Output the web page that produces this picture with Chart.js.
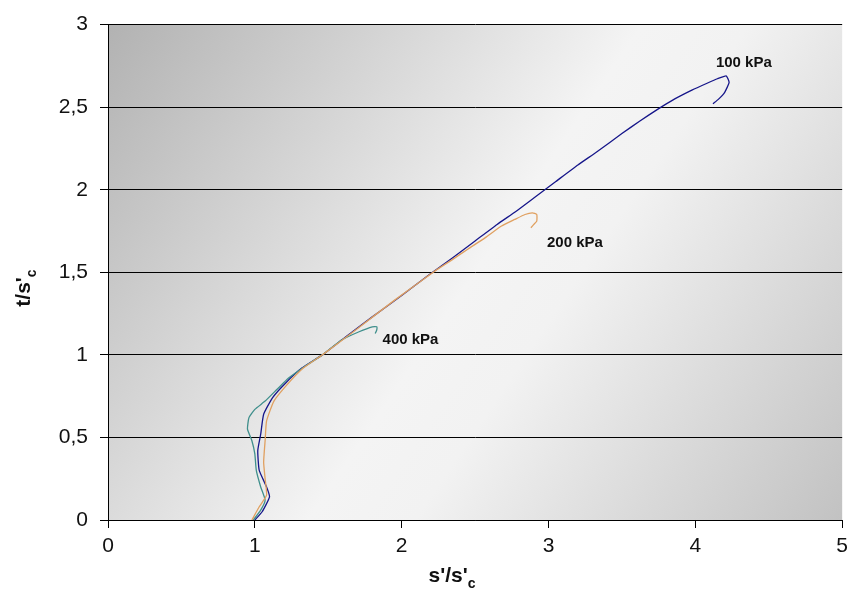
<!DOCTYPE html>
<html>
<head>
<meta charset="utf-8">
<script src="https://cdn.jsdelivr.net/npm/chart.js@4.4.1/dist/chart.umd.min.js"></script>
<style>
  html, body { margin: 0; padding: 0; background: #ffffff; }
  #wrap { width: 854px; height: 595px; }
</style>
</head>
<body>
<div id="wrap"><canvas id="c" width="854" height="595"></canvas></div>
<script>
// Stress paths (s'/s'c, t/s'c) for three confining pressures
const seriesNames = ['100 kPa', '200 kPa', '400 kPa'];

const s100 = [1.00,1.05,1.10,1.08,1.03,1.02,1.04,1.06,1.12,1.21,1.32,1.46,1.62,1.80,2.00,2.18,2.35,2.50,2.65,2.78,2.90,3.05,3.20,3.33,3.50,3.62,3.74,3.86,3.98,4.08,4.15,4.21,4.23,4.20,4.16,4.12];
const t100 = [0.00,0.05,0.14,0.20,0.30,0.42,0.52,0.64,0.74,0.83,0.92,1.00,1.11,1.23,1.36,1.48,1.59,1.69,1.79,1.87,1.95,2.05,2.15,2.23,2.34,2.415,2.485,2.55,2.605,2.645,2.672,2.69,2.65,2.59,2.55,2.52];

const s200 = [0.98,1.03,1.08,1.07,1.06,1.07,1.08,1.13,1.22,1.33,1.46,1.70,1.95,2.23,2.35,2.45,2.57,2.68,2.77,2.84,2.89,2.92,2.92,2.90,2.88];
const t200 = [0.00,0.08,0.15,0.25,0.35,0.48,0.60,0.72,0.82,0.92,1.00,1.16,1.33,1.51,1.58,1.64,1.71,1.78,1.82,1.85,1.86,1.85,1.81,1.79,1.77];

const s400 = [0.99,1.04,1.07,1.04,1.01,1.00,0.98,0.95,0.96,1.00,1.07,1.15,1.23,1.34,1.46,1.59,1.71,1.80,1.83,1.83,1.82];
const t400 = [0.00,0.06,0.12,0.20,0.30,0.40,0.48,0.55,0.62,0.67,0.72,0.79,0.86,0.93,1.00,1.09,1.14,1.17,1.17,1.15,1.13];

const seriesColors = ['#16168a', '#e0a060', '#3f8f8c'];

// Curve-end labels: [s'/s'c, t/s'c] anchor (left edge, middle)
const labelPos = [[4.14, 2.77], [2.99, 1.68], [1.87, 1.09]];

const xTicks = [0, 1, 2, 3, 4, 5];
const yTicks = [0, 0.5, 1, 1.5, 2, 2.5, 3];

function pairs(xs, ys) { return xs.map((x, i) => ({ x: x, y: ys[i] })); }

const FONT = '"Liberation Sans", Arial, sans-serif';

// Gray diagonal gradient behind the plot area
const bgPlugin = {
  id: 'plotBg',
  beforeDraw(chart) {
    const a = chart.chartArea, ctx = chart.ctx;
    const g = ctx.createLinearGradient(a.left, a.top, a.right, a.bottom);
    g.addColorStop(0, '#b2b2b2');
    g.addColorStop(0.5, '#f4f4f4');
    g.addColorStop(0.6, '#f2f2f2');
    g.addColorStop(1, '#c2c2c2');
    ctx.save();
    ctx.fillStyle = g;
    ctx.fillRect(a.left, a.top, a.right - a.left, a.bottom - a.top);
    ctx.restore();
  }
};

// Axis titles with subscripts and the pressure labels next to each curve
function drawSubTitle(ctx, main, sub, x, y, size) {
  ctx.font = 'bold ' + size + 'px ' + FONT;
  const w1 = ctx.measureText(main).width;
  ctx.font = 'bold ' + Math.round(size * 0.68) + 'px ' + FONT;
  const w2 = ctx.measureText(sub).width;
  const start = x - (w1 + w2) / 2;
  ctx.font = 'bold ' + size + 'px ' + FONT;
  ctx.textAlign = 'left';
  ctx.textBaseline = 'alphabetic';
  ctx.fillText(main, start, y);
  ctx.font = 'bold ' + Math.round(size * 0.68) + 'px ' + FONT;
  ctx.fillText(sub, start + w1, y + size * 0.3);
}

const textPlugin = {
  id: 'texts',
  afterDraw(chart) {
    const ctx = chart.ctx;
    const xs = chart.scales.x, ys = chart.scales.y;
    ctx.save();
    ctx.fillStyle = '#111';
    drawSubTitle(ctx, "s'/s'", 'c', 452, 582, 21);
    ctx.translate(30, 288);
    ctx.rotate(-Math.PI / 2);
    drawSubTitle(ctx, "t/s'", 'c', 0, 0, 21);
    ctx.restore();

    ctx.save();
    ctx.fillStyle = '#111';
    ctx.font = 'bold 15px ' + FONT;
    ctx.textAlign = 'left';
    ctx.textBaseline = 'middle';
    seriesNames.forEach((n, i) => {
      ctx.fillText(n, xs.getPixelForValue(labelPos[i][0]), ys.getPixelForValue(labelPos[i][1]));
    });
    ctx.restore();
  }
};

const datasets = [
  { label: seriesNames[0], data: pairs(s100, t100), borderColor: seriesColors[0] },
  { label: seriesNames[1], data: pairs(s200, t200), borderColor: seriesColors[1] },
  { label: seriesNames[2], data: pairs(s400, t400), borderColor: seriesColors[2] }
].map(d => Object.assign(d, { showLine: true, pointRadius: 0, borderWidth: 1.3, tension: 0.15, fill: false }));

new Chart(document.getElementById('c'), {
  type: 'scatter',
  data: { datasets: [datasets[1], datasets[2], datasets[0]] },
  options: {
    responsive: false,
    animation: false,
    devicePixelRatio: 1,
    layout: { padding: { left: 0, right: 8, top: 17, bottom: 0 } },
    plugins: { legend: { display: false }, tooltip: { enabled: false } },
    scales: {
      x: {
        type: 'linear', min: 0, max: 5,
        afterBuildTicks(s) { s.ticks = xTicks.map(v => ({ value: v })); },
        afterFit(s) { s.height = 75; },
        grid: { drawOnChartArea: false, drawTicks: true, tickLength: 8, color: '#000' },
        border: { display: true, color: '#000', width: 1 },
        ticks: { color: '#111', font: { family: FONT, size: 21 }, padding: 6, maxRotation: 0 }
      },
      y: {
        type: 'linear', min: 0, max: 3,
        afterBuildTicks(s) { s.ticks = yTicks.map(v => ({ value: v })); },
        afterFit(s) { s.width = 108; },
        grid: { drawOnChartArea: true, drawTicks: true, tickLength: 8, color: '#000', lineWidth: 1 },
        border: { display: true, color: '#000', width: 1 },
        ticks: {
          color: '#111', font: { family: FONT, size: 21 }, padding: 12,
          callback: v => String(v).replace('.', ',')
        }
      }
    }
  },
  plugins: [bgPlugin, textPlugin]
});
</script>
</body>
</html>
